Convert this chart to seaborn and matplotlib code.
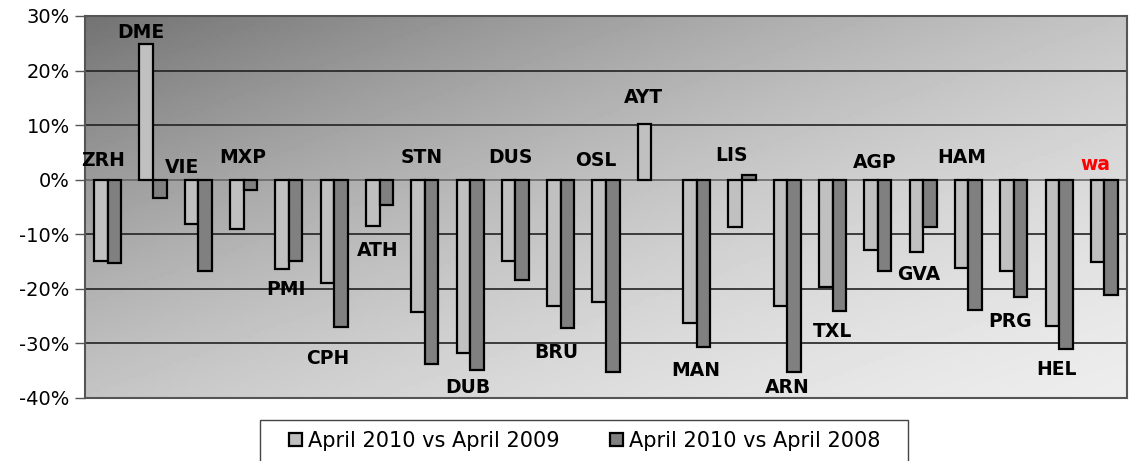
import numpy as np
import pandas as pd
import matplotlib
matplotlib.use('Agg')
import matplotlib.pyplot as plt
from matplotlib.patches import Rectangle
import seaborn as sns

sns.set_style("white")
plt.rcParams['font.family'] = ['DejaVu Sans']
plt.rcParams['text.color'] = 'black'
plt.rcParams['ytick.labelcolor'] = 'black'

airports = ['ZRH', 'DME', 'VIE', 'MXP', 'PMI', 'CPH', 'ATH', 'STN', 'DUB', 'DUS', 'BRU', 'OSL',
            'AYT', 'MAN', 'LIS', 'ARN', 'TXL', 'AGP', 'GVA', 'HAM', 'PRG', 'HEL', 'wa']
vs_2009 = [-14.9, 24.9, -8.1, -9.1, -16.3, -19.0, -8.4, -24.2, -31.8, -14.9, -23.1, -22.5,
           10.2, -26.3, -8.6, -23.1, -19.7, -12.9, -13.2, -16.2, -16.7, -26.9, -15.1]
vs_2008 = [-15.3, -3.3, -16.7, -1.9, -14.9, -27.0, -4.6, -33.8, -34.9, -18.4, -27.2, -35.2,
           np.nan, -30.6, 0.9, -35.2, -24.1, -16.8, -8.6, -23.8, -21.5, -31.0, -21.1]
series = ['April 2010 vs April 2009', 'April 2010 vs April 2008']

# label anchors (category offset, value in %) as they sit on the original chart
label_dx = [-0.10, 0.74, 1.64, 2.99, 3.94, 4.86, 5.97, 6.94, 7.95, 8.88, 9.90, 10.78,
            11.82, 12.97, 13.76, 15.0, 16.01, 16.92, 17.91, 18.86, 19.92, 20.94, 21.80]
label_y = [3.6, 26.9, 2.3, 4.1, -20.2, -32.7, -12.9, 4.1, -38.1, 4.1, -31.6, 3.6,
           15.1, -35.0, 4.5, -38.1, -27.9, 3.2, -17.3, 4.1, -25.9, -34.7, 2.7]

df = pd.DataFrame({
    'airport': airports * 2,
    'change': vs_2009 + vs_2008,
    'series': [series[0]] * len(airports) + [series[1]] * len(airports),
})

fig = plt.figure(figsize=(11.35, 4.61), dpi=100)
ax = fig.add_axes([0.0749, 0.1367, 0.9181, 0.8286])

# diagonal grey gradient behind the plot (dark top-left -> light bottom-right)
gx, gy = np.meshgrid(np.linspace(0, 1, 300), np.linspace(0, 1, 120))
d = (gx + gy) / 2
grad = 0.45 + 0.80 * d - 0.32 * d ** 2
ax.imshow(grad, cmap='gray', vmin=0, vmax=1, extent=[0, 1, 0, 1],
          transform=ax.transAxes, aspect='auto', zorder=0, origin='upper')

sns.barplot(data=df, x='airport', y='change', hue='series', ax=ax,
            palette=['#c0c0c0', '#808080'], width=0.6, edgecolor='black',
            linewidth=1.6, saturation=1, zorder=3, legend=True)

ax.set_xlim(-0.5, len(airports) - 0.5)
ax.set_ylim(-40, 30)
ax.set_yticks(range(-40, 31, 10))
ax.set_yticklabels([f'{t}%' for t in range(-40, 31, 10)], fontsize=14)
ax.tick_params(axis='y', length=7, width=1, color='#555555', direction='out', pad=4, left=True)
ax.set_xticks([])
ax.set_xlabel('')
ax.set_ylabel('')
for t in range(-30, 30, 10):
    ax.axhline(t, color='#222222' if t != 0 else '#666666', lw=1.2, zorder=1)
for s in ax.spines.values():
    s.set_color('#555555')
    s.set_linewidth(1.5)
    s.set_zorder(5)

for name, dx, yy in zip(airports, label_dx, label_y):
    ax.text(dx, yy, name, ha='center', va='center', fontsize=13.5, fontweight='bold',
            color='red' if name == 'wa' else 'black', zorder=6)

# legend box, cut off by the bottom edge as in the original
fig.patches.append(Rectangle((0.229, -0.05), 0.571, 0.139, transform=fig.transFigure,
                             facecolor='white', edgecolor='#444444', lw=1.0, zorder=-1))
handles, labels = ax.get_legend_handles_labels()
ax.legend(handles, labels, ncol=2, loc='center left', bbox_to_anchor=(0.2455, 0.0434),
          bbox_transform=fig.transFigure, frameon=False, fontsize=15, borderpad=0,
          handlelength=0.6, handleheight=0.6, handletextpad=0.3, columnspacing=2.45,
          labelcolor='black')

fig.savefig('out.png', dpi=100)
